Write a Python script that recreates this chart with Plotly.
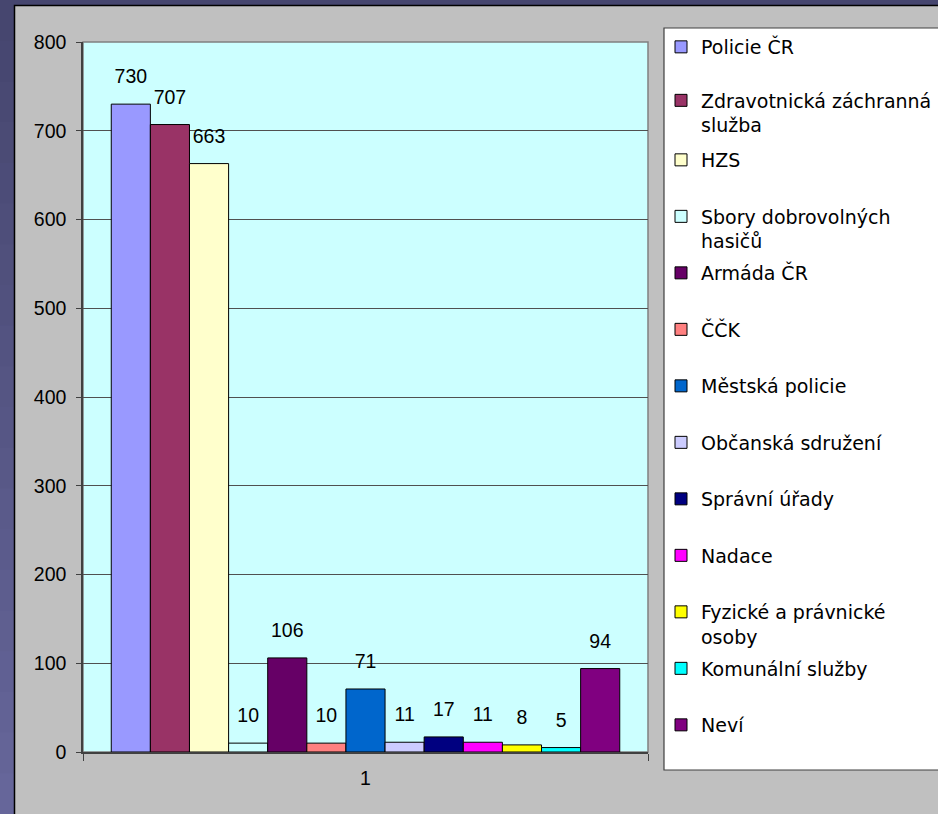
import plotly.graph_objects as go

categories = ["1"]
series_names = [
    "Policie ČR",
    "Zdravotnická záchranná<br>služba",
    "HZS",
    "Sbory dobrovolných<br>hasičů",
    "Armáda ČR",
    "ČČK",
    "Městská policie",
    "Občanská sdružení",
    "Správní úřady",
    "Nadace",
    "Fyzické a právnické<br>osoby",
    "Komunální služby",
    "Neví",
]
series_values = [730, 707, 663, 10, 106, 10, 71, 11, 17, 11, 8, 5, 94]
series_colors = [
    "#9999FF", "#993366", "#FFFFCC", "#CCFFFF", "#660066", "#FF8080",
    "#0066CC", "#CCCCFF", "#000080", "#FF00FF", "#FFFF00", "#00FFFF", "#800080",
]
y_ticks = [0, 100, 200, 300, 400, 500, 600, 700, 800]

W, H = 938, 814
ML, MR, MT, MB = 83, 290, 42, 62
PW, PH = W - ML - MR, H - MT - MB
NUM_FONT = dict(family="Liberation Sans, Arial", size=19.5, color="black")


def px_x(p):
    return (p - ML) / PW


def px_y(p):
    return (H - MB - p) / PH


fig = go.Figure()
legend_layouts = {}
for i, (name, val, col) in enumerate(zip(series_names, series_values, series_colors)):
    lg = "legend" if i == 0 else f"legend{i + 1}"
    fig.add_trace(go.Bar(
        x=categories, y=[val], name=name, legend=lg,
        marker=dict(color=col, line=dict(color="black", width=1)),
        offsetgroup=str(i), hoverinfo="skip",
    ))
    fig.add_trace(go.Scatter(
        x=categories, y=[val], mode="markers+text", text=[str(val)],
        textposition="top center", offsetgroup=str(i), showlegend=False,
        marker=dict(size=24, opacity=0),
        textfont=NUM_FONT,
        hoverinfo="skip", cliponaxis=False,
    ))
    center = 47 + 56.5 * i
    if i == 1:
        center -= 3
    legend_layouts[lg] = dict(
        x=px_x(661), y=px_y(center - 19), xanchor="left", yanchor="top",
        bgcolor="rgba(0,0,0,0)", borderwidth=0, valign="top",
        font=dict(family="DejaVu Sans", size=19, color="black"),
        itemclick=False, itemdoubleclick=False,
    )

shapes = []
# outer background gradient strips
n_bands = 20
top_c = (0x46, 0x46, 0x6F)
bot_c = (0x66, 0x66, 0x9A)
for b in range(n_bands):
    t = b / (n_bands - 1)
    c = tuple(int(top_c[k] + (bot_c[k] - top_c[k]) * t) for k in range(3))
    y0 = H * b / n_bands
    y1 = H * (b + 1) / n_bands + 1
    shapes.append(dict(type="rect", xref="paper", yref="paper", layer="below",
                       x0=px_x(-2), x1=px_x(W + 2), y0=px_y(y1), y1=px_y(y0),
                       fillcolor="rgb(%d,%d,%d)" % c, line=dict(width=0)))
# chart area
shapes.append(dict(type="rect", xref="paper", yref="paper", layer="below",
                   x0=px_x(14.5), x1=px_x(W + 10), y0=px_y(H + 10), y1=px_y(5.5),
                   fillcolor="#C0C0C0", line=dict(color="black", width=1.5)))
# plot area
shapes.append(dict(type="rect", xref="paper", yref="paper", layer="below",
                   x0=0, x1=1, y0=0, y1=1,
                   fillcolor="#CCFFFF", line=dict(color="#808080", width=1.5)))
# legend box
shapes.append(dict(type="rect", xref="paper", yref="paper", layer="below",
                   x0=px_x(664), x1=px_x(W + 10), y0=px_y(770), y1=px_y(28),
                   fillcolor="white", line=dict(color="#404040", width=1.2)))

fig.update_layout(
    width=W, height=H, autosize=False,
    margin=dict(l=ML, r=MR, t=MT, b=MB, autoexpand=False),
    paper_bgcolor="#55557F",
    plot_bgcolor="rgba(0,0,0,0)",
    barmode="group", bargap=0.1, bargroupgap=0,
    scattermode="group", scattergap=0.1,
    shapes=shapes,
    font=NUM_FONT,
    **legend_layouts,
)
fig.update_xaxes(
    type="category", tickson="boundaries", ticks="outside", ticklen=7,
    tickcolor="#404040", showline=True, linecolor="#404040", linewidth=1.5,
    showgrid=False, ticklabelstandoff=8, automargin=False,
    tickfont=NUM_FONT,
)
fig.update_yaxes(
    range=[0, 800], tickvals=y_ticks, ticks="outside", ticklen=5,
    tickcolor="#404040", showline=True, linecolor="#404040", linewidth=1.5,
    showgrid=True, gridcolor="#505050", gridwidth=1, zeroline=False,
    ticklabelstandoff=6, automargin=False,
    tickfont=NUM_FONT,
)

fig.write_html(
    "out.html",
    config={"responsive": False, "displayModeBar": False},
    post_script="document.body.style.margin='0';document.body.style.overflow='hidden';",
)
